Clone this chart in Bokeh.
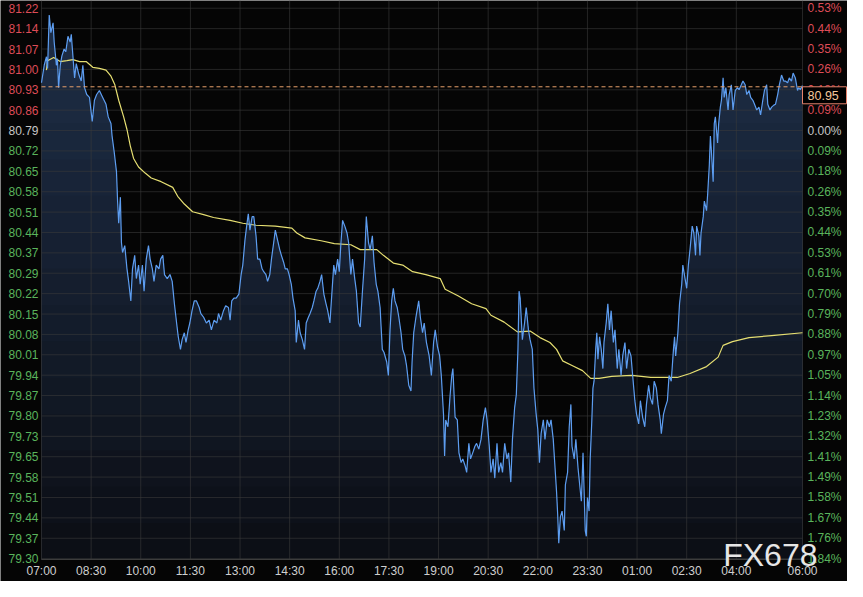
import numpy as np
from bokeh.plotting import figure
from bokeh.models import Range1d
from bokeh.core.properties import value
from bokeh.embed import file_html
from bokeh.resources import INLINE

# ---------------- data ----------------
# minutes after 07:00
minutes = [
    0, 5, 9, 11, 14, 17, 21, 23, 27, 29,
    31, 34, 37, 41, 44, 48, 52, 54, 56, 60,
    63, 68, 72, 75, 78, 82, 87, 92, 96, 100,
    105, 111, 117, 121, 126, 128, 132, 136, 138, 140,
    143, 145, 147, 151, 155, 158, 162, 165, 169, 172,
    176, 179, 183, 186, 190, 194, 197, 201, 204, 208,
    213, 216, 220, 223, 228, 233, 237, 241, 245, 248,
    252, 255, 259, 262, 266, 269, 273, 277, 281, 286,
    289, 294, 299, 304, 308, 313, 318, 321, 325, 330,
    334, 339, 342, 345, 349, 353, 358, 362, 365, 369,
    372, 375, 378, 382, 385, 389, 392, 396, 400, 403,
    407, 410, 414, 417, 421, 424, 428, 432, 435, 439,
    442, 446, 449, 453, 456, 460, 462, 466, 469, 473,
    477, 480, 484, 487, 491, 494, 498, 501, 505, 508,
    512, 516, 519, 523, 526, 530, 533, 537, 540, 543,
    546, 550, 554, 557, 561, 564, 568, 571, 575, 578,
    582, 586, 589, 593, 596, 600, 603, 607, 610, 614,
    618, 621, 626, 629, 632, 635, 638, 641, 645, 648,
    652, 655, 659, 662, 666, 670, 672, 675, 679, 684,
    687, 691, 694, 698, 703, 707, 711, 714, 718, 722,
    725, 729, 731, 733, 737, 741, 744, 746, 750, 754,
    757, 761, 764, 768, 771, 775, 778, 782, 786, 789,
    793, 797, 801, 805, 808, 812, 815, 819, 822, 826,
    829, 833, 836, 840, 844, 847, 851, 854, 858, 861,
    864, 866, 868, 872, 876, 879, 883, 886, 890, 893,
    897, 900, 903, 906, 910, 913, 917, 921, 924, 928,
    931, 934, 936, 938, 941, 944, 948, 950, 954, 957,
    960, 962, 966, 969, 973, 976, 979, 982, 986, 988,
    990, 993, 995, 998, 1000, 1002, 1005, 1007, 1009, 1012,
    1015, 1018, 1020, 1024, 1027, 1030, 1033, 1037, 1040, 1044,
    1047, 1051, 1054, 1058, 1061, 1065, 1069, 1072, 1076, 1079,
    1083, 1086, 1090, 1094, 1097, 1101, 1104, 1108, 1111, 1115,
    1118, 1122, 1124, 1128, 1131, 1135, 1138, 1142, 1146, 1148,
    1150, 1154, 1157, 1161, 1163, 1167, 1170, 1173, 1176, 1180,
    1183, 1186, 1188, 1192, 1194, 1196, 1200, 1202, 1206, 1208,
    1211, 1213, 1215, 1218, 1220, 1222, 1226, 1228, 1231, 1233,
    1236, 1238, 1241, 1245, 1247, 1251, 1254, 1258, 1262, 1265,
    1269, 1272, 1276, 1279, 1283, 1286, 1290, 1293, 1297, 1301,
    1304, 1308, 1311, 1315, 1317, 1321, 1324, 1328, 1331, 1335,
    1338, 1342, 1346, 1349, 1353, 1356, 1360, 1363, 1367, 1371,
    1373, 1376, 1380,
]
price = [
    80.960, 81.022, 81.051, 81.010, 81.196, 81.135, 81.169, 81.102, 81.021, 81.044,
    80.943, 81.021, 81.054, 81.078, 81.068, 81.122, 81.102, 81.129, 81.078, 80.977,
    81.027, 80.987, 80.966, 81.021, 80.943, 80.919, 80.909, 80.825, 80.899, 80.919,
    80.933, 80.909, 80.885, 80.841, 80.818, 80.774, 80.716, 80.649, 80.547, 80.470,
    80.561, 80.402, 80.368, 80.392, 80.311, 80.267, 80.199, 80.311, 80.358, 80.277,
    80.324, 80.257, 80.324, 80.233, 80.345, 80.392, 80.345, 80.311, 80.267, 80.324,
    80.311, 80.345, 80.358, 80.291, 80.277, 80.291, 80.267, 80.189, 80.122, 80.074,
    80.030, 80.064, 80.088, 80.054, 80.098, 80.122, 80.165, 80.199, 80.199, 80.176,
    80.155, 80.142, 80.122, 80.132, 80.098, 80.132, 80.122, 80.155, 80.132, 80.165,
    80.182, 80.176, 80.132, 80.199, 80.209, 80.209, 80.223, 80.291, 80.324, 80.412,
    80.460, 80.503, 80.446, 80.493, 80.493, 80.426, 80.345, 80.345, 80.311, 80.301,
    80.291, 80.267, 80.291, 80.345, 80.402, 80.446, 80.412, 80.378, 80.358, 80.334,
    80.311, 80.311, 80.291, 80.257, 80.209, 80.165, 80.054, 80.132, 80.088, 80.064,
    80.030, 80.122, 80.142, 80.155, 80.176, 80.199, 80.233, 80.243, 80.267, 80.291,
    80.223, 80.189, 80.165, 80.122, 80.209, 80.324, 80.291, 80.345, 80.301, 80.402,
    80.480, 80.460, 80.436, 80.402, 80.291, 80.345, 80.277, 80.233, 80.122, 80.108,
    80.233, 80.345, 80.493, 80.402, 80.378, 80.426, 80.334, 80.257, 80.233, 80.176,
    80.030, 80.020, 79.986, 79.939, 80.098, 80.199, 80.243, 80.199, 80.176, 80.142,
    80.088, 80.030, 80.007, 79.973, 79.905, 79.885, 79.986, 80.088, 80.142, 80.199,
    80.142, 80.088, 80.122, 80.054, 80.007, 79.939, 80.054, 80.098, 80.040, 80.007,
    79.939, 79.804, 79.658, 79.784, 79.760, 79.871, 79.939, 79.963, 79.794, 79.784,
    79.669, 79.635, 79.648, 79.625, 79.601, 79.702, 79.648, 79.669, 79.692, 79.702,
    79.682, 79.716, 79.784, 79.827, 79.784, 79.692, 79.601, 79.648, 79.581, 79.702,
    79.601, 79.635, 79.601, 79.702, 79.648, 79.669, 79.567, 79.716, 79.827, 79.871,
    80.030, 80.233, 80.209, 80.064, 80.122, 80.176, 80.098, 80.064, 80.030, 79.895,
    79.804, 79.750, 79.635, 79.736, 79.784, 79.716, 79.784, 79.760, 79.784, 79.716,
    79.625, 79.533, 79.456, 79.354, 79.446, 79.466, 79.398, 79.557, 79.601, 79.760,
    79.838, 79.692, 79.648, 79.716, 79.615, 79.557, 79.500, 79.669, 79.398, 79.378,
    79.513, 79.466, 79.648, 79.784, 79.895, 79.919, 80.030, 80.088, 79.996, 80.074,
    80.030, 79.963, 80.054, 80.122, 80.189, 80.098, 80.165, 80.054, 80.098, 79.963,
    80.030, 79.939, 80.007, 80.054, 79.963, 80.030, 80.007, 79.939, 79.851, 79.804,
    79.770, 79.851, 79.794, 79.760, 79.838, 79.905, 79.861, 79.838, 79.919, 79.895,
    79.838, 79.784, 79.736, 79.804, 79.827, 79.851, 79.939, 79.919, 80.030, 80.074,
    80.007, 80.088, 80.189, 80.257, 80.324, 80.277, 80.243, 80.324, 80.378, 80.460,
    80.436, 80.358, 80.460, 80.426, 80.358, 80.436, 80.493, 80.547, 80.514, 80.571,
    80.672, 80.774, 80.716, 80.615, 80.818, 80.841, 80.750, 80.818, 80.875, 80.899,
    80.977, 80.909, 80.943, 80.865, 80.919, 80.953, 80.865, 80.933, 80.943, 80.936,
    80.953, 80.966, 80.953, 80.919, 80.933, 80.909, 80.899, 80.885, 80.865, 80.875,
    80.848, 80.899, 80.933, 80.953, 80.885, 80.865, 80.875, 80.882, 80.885, 80.919,
    80.953, 80.987, 80.966, 80.966, 80.960, 80.977, 80.966, 80.994, 80.977, 80.933,
    80.943, 80.936, 80.950,
]
ma_minutes = [
    9, 11, 22, 34, 46, 57, 69, 81, 93, 105,
    117, 126, 133, 140, 149, 155, 161, 167, 176, 188,
    199, 217, 238, 247, 259, 274, 294, 312, 342, 365,
    389, 424, 454, 463, 478, 507, 531, 561, 578, 608,
    620, 638, 655, 673, 697, 723, 732, 756, 780, 806,
    815, 839, 863, 886, 904, 922, 934, 945, 963, 981,
    996, 1011, 1034, 1070, 1105, 1153, 1176, 1206, 1227, 1236,
    1253, 1283, 1324, 1380,
]
ma_price = [
    81.004, 81.037, 81.048, 81.034, 81.037, 81.041, 81.034, 81.034, 81.014, 81.010,
    81.004, 80.983, 80.953, 80.899, 80.841, 80.797, 80.740, 80.696, 80.666, 80.645,
    80.628, 80.615, 80.595, 80.564, 80.537, 80.510, 80.500, 80.490, 80.480, 80.470,
    80.463, 80.460, 80.453, 80.436, 80.419, 80.409, 80.399, 80.395, 80.378, 80.378,
    80.358, 80.331, 80.324, 80.301, 80.291, 80.277, 80.240, 80.216, 80.189, 80.172,
    80.149, 80.125, 80.091, 80.094, 80.071, 80.054, 80.030, 79.990, 79.973, 79.956,
    79.929, 79.929, 79.936, 79.939, 79.932, 79.932, 79.946, 79.970, 80.003, 80.044,
    80.057, 80.071, 80.078, 80.088,
]
last_price = 80.946
last_price_text = "80.95"

time_ticks = [0, 90, 180, 270, 360, 450, 540, 630, 720, 810, 900, 990, 1080, 1170, 1260, 1380]
time_labels = ["07:00", "08:30", "10:00", "11:30", "13:00", "14:30", "16:00", "17:30",
               "19:00", "20:30", "22:00", "23:30", "01:00", "02:30", "04:00", "06:00"]
price_labels = ["81.22", "81.14", "81.07", "81.00", "80.93", "80.86", "80.79", "80.72",
                "80.65", "80.58", "80.51", "80.44", "80.37", "80.29", "80.22", "80.15",
                "80.08", "80.01", "79.94", "79.87", "79.80", "79.73", "79.65", "79.58",
                "79.51", "79.44", "79.37", "79.30"]
pct_labels = ["0.53%", "0.44%", "0.35%", "0.26%", "0.18%", "0.09%", "0.00%", "0.09%",
              "0.18%", "0.26%", "0.35%", "0.44%", "0.53%", "0.61%", "0.70%", "0.79%",
              "0.88%", "0.97%", "1.05%", "1.14%", "1.23%", "1.32%", "1.41%", "1.49%",
              "1.58%", "1.67%", "1.76%", "1.84%"]
REF_INDEX = 6  # 80.79 / 0.00%  (labels above are red, below green)
watermark = "FX678"

assert len(minutes) == len(price), (len(minutes), len(price))
assert len(ma_minutes) == len(ma_price)

# ---------------- layout / styling ----------------
W, H = 847, 581
LEFT_PX, RIGHT_PX, BOTTOM_PX = 41, 45, 22
Y_BOTTOM, Y_TOP = 79.297, 81.247
X_END = 1380
PXM = (W - LEFT_PX - RIGHT_PX) / X_END          # pixels per minute
PXY = (H - BOTTOM_PX) / (Y_TOP - Y_BOTTOM)      # pixels per price unit

RED, GREY, GREEN = "#de4c57", "#c6c6c6", "#5ab45c"
BG = "#050505"
GRID = "#3a3a3a"
FONT = "Liberation Sans"
FS = "12px"

n = len(price_labels)
yticks = [81.22 - i * (81.22 - 79.30) / (n - 1) for i in range(n)]
label_colors = [RED if i < REF_INDEX else (GREY if i == REF_INDEX else GREEN) for i in range(n)]

p = figure(width=W, height=H,
           x_range=Range1d(-LEFT_PX / PXM, X_END + RIGHT_PX / PXM),
           y_range=Range1d(Y_BOTTOM - BOTTOM_PX / PXY, Y_TOP),
           output_backend="svg", toolbar_location=None,
           background_fill_color=BG, border_fill_color=BG, outline_line_color=None,
           min_border=0, x_axis_type=None, y_axis_type=None)
p.xgrid.visible = False
p.ygrid.visible = False

# area under the price with a vertical gradient (bands)
x = np.array(minutes, dtype=float)
y = np.array(price, dtype=float)
levels = np.linspace(Y_BOTTOM, 81.2, 16)
top_rgb = np.array([29, 45, 70])
bot_rgb = np.array([11, 13, 19])
for i in range(len(levels) - 1, 0, -1):
    hi = Y_TOP if i == len(levels) - 1 else levels[i]
    frac = i / (len(levels) - 1)
    c = bot_rgb + (top_rgb - bot_rgb) * frac
    color = "#%02x%02x%02x" % tuple(int(round(v)) for v in c)
    p.varea(x=x, y1=np.full_like(y, Y_BOTTOM), y2=np.minimum(y, hi), fill_color=color)

# grid (inside the plotting area only)
p.segment(x0=time_ticks, y0=[Y_BOTTOM] * len(time_ticks), x1=time_ticks, y1=[Y_TOP] * len(time_ticks),
          line_color=GRID, line_alpha=0.6, line_width=1)
p.segment(x0=[0] * n, y0=yticks, x1=[X_END] * n, y1=yticks,
          line_color=GRID, line_alpha=0.6, line_width=1)
# x axis line
p.segment(x0=[0], y0=[Y_BOTTOM], x1=[X_END], y1=[Y_BOTTOM], line_color="#3c3c3c", line_width=1)

p.line(ma_minutes, ma_price, line_color="#e6df72", line_width=1.2)
p.line(minutes, price, line_color="#5d9df0", line_width=1.2)

# last-price dashed line
p.segment(x0=[0], y0=[last_price], x1=[X_END], y1=[last_price],
          line_color="#e8a06a", line_dash="4 3", line_width=1)

# tick labels
p.text(x=[0] * n, y=yticks, text=price_labels, text_color=label_colors, x_offset=-3,
       text_align="right", text_baseline="middle", text_font=value(FONT), text_font_size=FS)
p.text(x=[X_END] * n, y=yticks, text=pct_labels, text_color=label_colors, x_offset=5,
       text_align="left", text_baseline="middle", text_font=value(FONT), text_font_size=FS)
p.text(x=time_ticks, y=[Y_BOTTOM] * len(time_ticks), text=time_labels, text_color="#cfcfcf",
       y_offset=4, text_align="center", text_baseline="top",
       text_font=value(FONT), text_font_size=FS)

# watermark
p.text(x=[X_END], y=[Y_BOTTOM], text=[watermark], x_offset=15, y_offset=-5,
       text_align="right", text_baseline="alphabetic", text_color="#e6e6e6",
       text_font=value(FONT), text_font_size="32px")

# last price box on the right scale
box_w, box_h = 44, 17
p.quad(left=[X_END], right=[X_END + box_w / PXM], top=[last_price], bottom=[last_price - box_h / PXY],
       fill_color="#000000", line_color="#e5826c", line_width=1)
p.text(x=[X_END], y=[last_price - box_h / 2 / PXY], text=[last_price_text], x_offset=5,
       text_align="left", text_baseline="middle", text_color="#f3c79c",
       text_font=value(FONT), text_font_size="12.5px")

open("out.html", "w").write(file_html(p, INLINE))
